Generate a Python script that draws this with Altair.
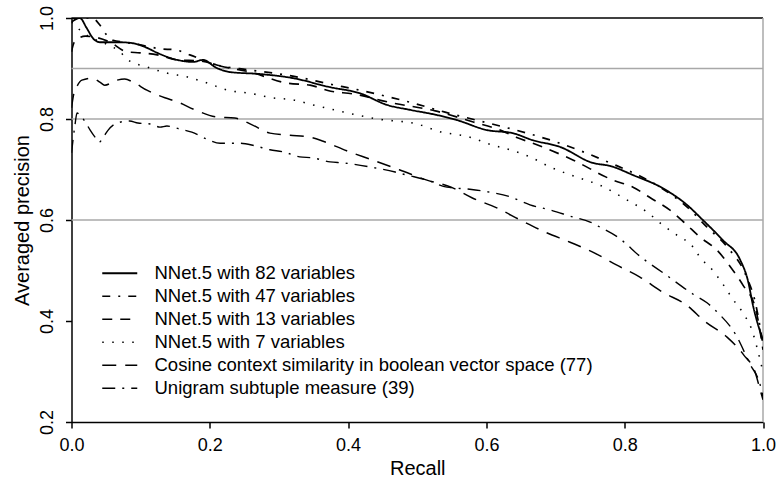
import altair as alt
import pandas as pd

# Series names, in legend order
SERIES = [
    "NNet.5 with 82 variables",
    "NNet.5 with 47 variables",
    "NNet.5 with 13 variables",
    "NNet.5 with 7 variables",
    "Cosine context similarity in boolean vector space (77)",
    "Unigram subtuple measure (39)",
]

# Recall / averaged precision curves
recall_82 = [0.0, 0.012, 0.022, 0.031, 0.041, 0.070, 0.089, 0.109, 0.124,
             0.153, 0.176, 0.190, 0.210, 0.229, 0.273, 0.320, 0.374, 0.417, 0.456,
             0.490, 0.528, 0.557, 0.601, 0.638, 0.667, 0.706, 0.754, 0.779, 0.812,
             0.855, 0.890, 0.913, 0.942, 0.967, 0.978, 0.986, 1.000]
prec_82 = [1.000, 1.000, 0.980, 0.960, 0.952, 0.952, 0.950, 0.941, 0.931,
           0.917, 0.913, 0.917, 0.901, 0.893, 0.889, 0.881, 0.863, 0.851, 0.828,
           0.818, 0.808, 0.798, 0.778, 0.772, 0.758, 0.745, 0.713, 0.707, 0.689,
           0.663, 0.630, 0.600, 0.560, 0.521, 0.481, 0.428, 0.362]

recall_47 = [0.0, 0.012, 0.030, 0.041, 0.051, 0.060, 0.077, 0.099, 0.128, 0.150,
             0.171, 0.210, 0.258, 0.320, 0.374, 0.417, 0.458, 0.498, 0.539, 0.579,
             0.620, 0.659, 0.702, 0.740, 0.779, 0.822, 0.858, 0.890, 0.919, 0.948,
             0.977, 0.989, 1.000]
prec_47 = [0.992, 1.000, 1.000, 0.986, 0.966, 0.956, 0.952, 0.947, 0.939, 0.937,
           0.927, 0.907, 0.897, 0.885, 0.869, 0.857, 0.844, 0.830, 0.814, 0.800,
           0.786, 0.772, 0.754, 0.735, 0.713, 0.687, 0.659, 0.626, 0.586, 0.547,
           0.485, 0.436, 0.352]

recall_13 = [0.0, 0.004, 0.020, 0.034, 0.056, 0.080, 0.099, 0.124, 0.153, 0.186,
             0.215, 0.258, 0.312, 0.345, 0.375, 0.406, 0.463, 0.526, 0.581, 0.620,
             0.643, 0.673, 0.725, 0.783, 0.812, 0.837, 0.865, 0.887, 0.909, 0.933,
             0.953, 0.971, 0.989, 1.000]
prec_13 = [0.933, 0.952, 0.964, 0.962, 0.952, 0.933, 0.931, 0.927, 0.917, 0.915,
           0.905, 0.893, 0.871, 0.867, 0.855, 0.850, 0.832, 0.816, 0.794, 0.778,
           0.764, 0.749, 0.719, 0.679, 0.665, 0.644, 0.620, 0.594, 0.566, 0.541,
           0.507, 0.471, 0.426, 0.343]

recall_7 = [0.0, 0.009, 0.027, 0.048, 0.070, 0.082, 0.109, 0.138, 0.168, 0.197,
            0.226, 0.258, 0.290, 0.320, 0.349, 0.393, 0.442, 0.500, 0.530, 0.576,
            0.605, 0.634, 0.663, 0.692, 0.735, 0.764, 0.803, 0.832, 0.855, 0.880,
            0.894, 0.912, 0.923, 0.941, 0.957, 0.971, 0.984, 0.991, 1.000]
prec_7 = [0.992, 0.980, 0.962, 0.950, 0.933, 0.917, 0.903, 0.891, 0.883, 0.871,
          0.857, 0.851, 0.842, 0.838, 0.828, 0.814, 0.800, 0.790, 0.776, 0.764,
          0.750, 0.739, 0.725, 0.705, 0.683, 0.669, 0.640, 0.616, 0.590, 0.566,
          0.554, 0.521, 0.507, 0.475, 0.442, 0.416, 0.382, 0.349, 0.299]

recall_cos = [0.0, 0.003, 0.008, 0.015, 0.030, 0.041, 0.048, 0.066, 0.077, 0.089,
              0.109, 0.135, 0.153, 0.179, 0.210, 0.236, 0.262, 0.287, 0.316, 0.345,
              0.364, 0.398, 0.435, 0.475, 0.514, 0.549, 0.579, 0.615, 0.649, 0.685,
              0.721, 0.756, 0.788, 0.822, 0.855, 0.889, 0.917, 0.948, 0.972, 0.989,
              0.996, 1.000]
prec_cos = [0.822, 0.848, 0.865, 0.877, 0.881, 0.873, 0.867, 0.877, 0.879, 0.873,
            0.857, 0.842, 0.834, 0.818, 0.804, 0.802, 0.788, 0.772, 0.768, 0.764,
            0.756, 0.737, 0.719, 0.699, 0.679, 0.665, 0.644, 0.624, 0.600, 0.576,
            0.556, 0.535, 0.511, 0.487, 0.457, 0.432, 0.398, 0.368, 0.333, 0.297,
            0.263, 0.244]

recall_uni = [0.0, 0.005, 0.008, 0.012, 0.020, 0.027, 0.034, 0.040, 0.046, 0.053,
              0.066, 0.084, 0.096, 0.114, 0.128, 0.138, 0.157, 0.174, 0.196, 0.215,
              0.244, 0.265, 0.287, 0.306, 0.330, 0.349, 0.374, 0.393, 0.432, 0.468,
              0.485, 0.514, 0.543, 0.576, 0.605, 0.634, 0.663, 0.692, 0.725, 0.750,
              0.764, 0.790, 0.825, 0.858, 0.899, 0.919, 0.935, 0.961, 0.981, 0.996,
              1.000]
prec_uni = [0.733, 0.788, 0.812, 0.808, 0.794, 0.778, 0.764, 0.754, 0.764, 0.778,
            0.792, 0.796, 0.792, 0.790, 0.784, 0.786, 0.780, 0.774, 0.760, 0.752,
            0.752, 0.747, 0.739, 0.735, 0.725, 0.723, 0.715, 0.713, 0.705, 0.695,
            0.689, 0.679, 0.665, 0.661, 0.655, 0.646, 0.630, 0.620, 0.606, 0.596,
            0.586, 0.566, 0.525, 0.493, 0.453, 0.436, 0.416, 0.372, 0.315, 0.273,
            0.250]

# Axis ticks and horizontal reference lines
X_TICKS = [0.0, 0.2, 0.4, 0.6, 0.8, 1.0]
Y_TICKS = [0.2, 0.4, 0.6, 0.8, 1.0]
GRID_LEVELS = [0.6, 0.8, 0.9]

# Line styles per series
DASHES = [[1, 0], [8, 8, 2, 8], [10, 8], [1.5, 8.5], [14, 9], [13, 7, 2, 7]]
WIDTHS = [1.8, 1.4, 1.8, 1.6, 1.2, 1.2]

FONT = "Liberation Sans"
X_TITLE = "Recall"
Y_TITLE = "Averaged precision"

curves = [
    (SERIES[0], recall_82, prec_82),
    (SERIES[1], recall_47, prec_47),
    (SERIES[2], recall_13, prec_13),
    (SERIES[3], recall_7, prec_7),
    (SERIES[4], recall_cos, prec_cos),
    (SERIES[5], recall_uni, prec_uni),
]
frames = [pd.DataFrame({"series": name, "recall": r, "precision": p})
          for name, r, p in curves]
df = pd.concat(frames, ignore_index=True)

x_scale = alt.Scale(domain=[0, 1], nice=False, zero=False)
y_scale = alt.Scale(domain=[0.2, 1.0], nice=False, zero=False)

x_axis = alt.Axis(values=X_TICKS, format=".1f", labelFontSize=18,
                  labelPadding=8, tickSize=6, labelFlush=False,
                  titleFontSize=20, titleX=345.75, titleY=52,
                  titleBaseline="alphabetic", titleAnchor="middle",
                  titleFontWeight="normal")
y_axis = alt.Axis(values=Y_TICKS, format=".1f", labelFontSize=18,
                  labelAngle=270, labelAlign="center",
                  labelBaseline="alphabetic", labelPadding=13,
                  labelFlush=False, tickSize=6, titleFontSize=20,
                  titleAngle=270, titleX=-43, titleY=202, titleAlign="center",
                  titleBaseline="alphabetic", titleFontWeight="normal")

grid = alt.Chart(pd.DataFrame({"level": GRID_LEVELS})).mark_rule(
    color="#a8a8a8", strokeWidth=1.5
).encode(y=alt.Y("level:Q", scale=y_scale, title=Y_TITLE, axis=y_axis))

top_edge = alt.Chart(pd.DataFrame({"v": [1.0]})).mark_rule(
    color="black", strokeWidth=1.5
).encode(y=alt.Y("v:Q", scale=y_scale, title=Y_TITLE, axis=y_axis))

right_edge = alt.Chart(pd.DataFrame({"v": [1.0]})).mark_rule(
    color="#a8a8a8", strokeWidth=1.5
).encode(x=alt.X("v:Q", scale=x_scale, title=X_TITLE, axis=x_axis))

# Legend key: a wide horizontal stroke drawn from a compact symbol size,
# so the rows stay as tall as the text rather than the key.
legend = alt.Legend(
    title=None, orient="none", legendX=39, legendY=246,
    symbolType="M-2.5,0L2.5,0", symbolSize=196,
    symbolStrokeColor="black", symbolStrokeWidth=1.5,
    labelFontSize=18.5, labelFont=FONT, labelColor="black",
    labelOffset=25.5, rowPadding=4, padding=0, labelLimit=600,
)

lines = alt.Chart(df).mark_line(
    interpolate="monotone", color="black", clip=True
).encode(
    x=alt.X("recall:Q", scale=x_scale, title=X_TITLE, axis=x_axis),
    y=alt.Y("precision:Q", scale=y_scale, title=Y_TITLE, axis=y_axis),
    strokeDash=alt.StrokeDash(
        "series:N", scale=alt.Scale(domain=SERIES, range=DASHES), legend=legend
    ),
    strokeWidth=alt.StrokeWidth(
        "series:N", scale=alt.Scale(domain=SERIES, range=WIDTHS), legend=None
    ),
    detail="series:N",
)

chart = alt.layer(grid, top_edge, right_edge, lines).properties(
    width=691.5,
    height=404,
    padding={"left": 71.5, "top": 18, "right": 15, "bottom": 65},
    autosize=alt.AutoSizeParams(type="none"),
    background="white",
).configure_view(
    stroke=None
).configure_axis(
    grid=False,
    domainColor="black",
    domainWidth=1.5,
    tickColor="black",
    tickWidth=1.5,
    labelColor="black",
    titleColor="black",
    labelFont=FONT,
    titleFont=FONT,
)

chart.save("out.html", embed_options={"renderer": "svg", "actions": False})
